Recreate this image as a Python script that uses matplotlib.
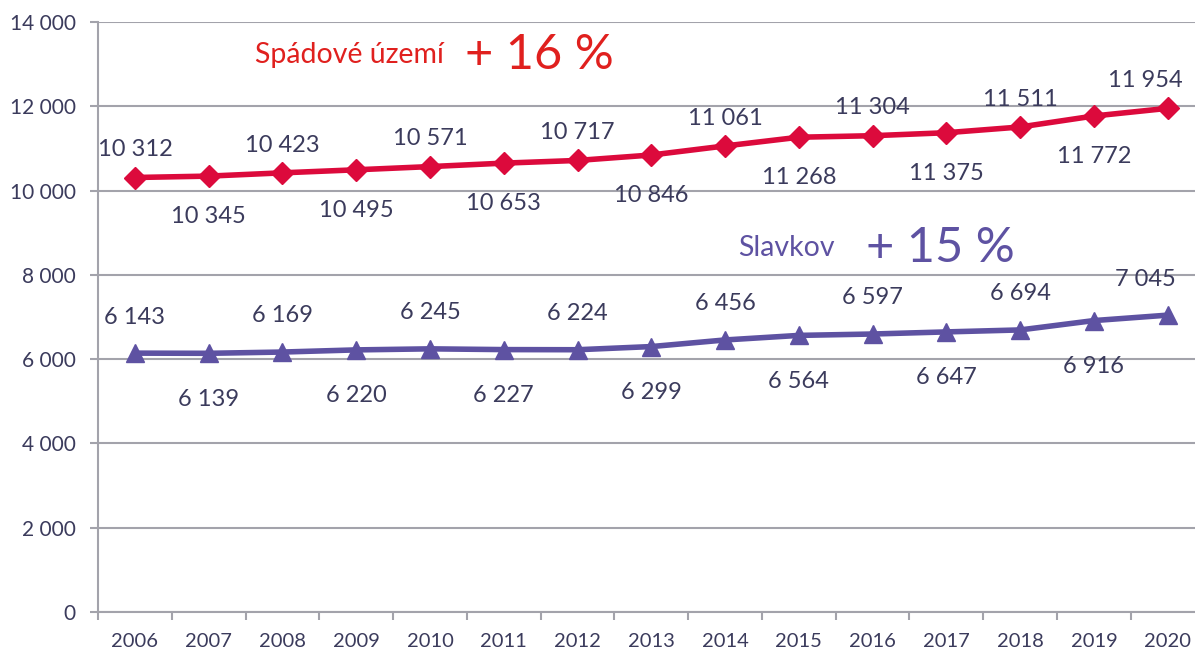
import matplotlib.pyplot as plt

# data
roky = ['2006', '2007', '2008', '2009', '2010', '2011', '2012', '2013',
        '2014', '2015', '2016', '2017', '2018', '2019', '2020']
spadove_uzemi = [10312, 10345, 10423, 10495, 10571, 10653, 10717, 10846,
                 11061, 11268, 11304, 11375, 11511, 11772, 11954]
slavkov = [6143, 6139, 6169, 6220, 6245, 6227, 6224, 6299,
           6456, 6564, 6597, 6647, 6694, 6916, 7045]

cervena = '#dc0a3c'
cervena_text = '#e0201e'
fialova = '#5e52a2'
text_barva = '#3b3b5c'
seda = '#a3a3ab'

plt.rcParams['font.family'] = ['Lato', 'DejaVu Sans']


def fmt(v):
    return '{:,}'.format(v).replace(',', ' ')


fig = plt.figure(figsize=(11.95, 6.51), dpi=100)
ax = fig.add_axes([0.082, 0.06, 0.926, 0.906])

x = list(range(len(roky)))
ax.plot(x, spadove_uzemi, color=cervena, lw=4, marker='D', ms=11.5, zorder=3)
ax.plot(x, slavkov, color=fialova, lw=4, marker='^', ms=13.5, zorder=3)


def popisek(hodnota, i, dy):
    # posledni popisek je posunuty doleva, aby se vesel
    dx = -16 if i == len(roky) - 1 else 0
    ax.annotate(fmt(hodnota), (i, hodnota), xytext=(dx, dy),
                textcoords='offset points', ha='center', va='center',
                fontsize=17, color=text_barva)


# popisky hodnot - stridave nad a pod
for i in x:
    if i % 2 == 0:
        popisek(spadove_uzemi[i], i, 20)
        popisek(slavkov[i], i, 26)
    else:
        popisek(spadove_uzemi[i], i, -29)
        popisek(slavkov[i], i, -33)

# nadpisy serii
ax.text(1.63, 13217, 'Spádové území', fontsize=20.5, color=cervena_text, va='center')
ax.text(4.48, 13217, '+ 16 %', fontsize=35, color=cervena_text, va='center')
ax.text(8.18, 8637, 'Slavkov', fontsize=20.5, color=fialova, va='center')
ax.text(9.91, 8637, '+ 15 %', fontsize=35, color=fialova, va='center')

ax.set_xlim(-0.5, 14.5)
ax.set_ylim(0, 14000)
ax.set_yticks(range(0, 14001, 2000))
ax.set_yticklabels([fmt(v) for v in range(0, 14001, 2000)])
ax.set_xticks(x)
ax.set_xticklabels(roky)
ax.set_xticks([i - 0.5 for i in range(len(roky) + 1)], minor=True)

ax.grid(axis='y', color=seda, lw=1.5)
ax.set_axisbelow(True)
for s in ['top', 'right']:
    ax.spines[s].set_visible(False)
ax.spines['left'].set_color(seda)
ax.spines['bottom'].set_color(seda)
ax.spines['left'].set_linewidth(1.5)
ax.spines['bottom'].set_linewidth(1.5)

ax.tick_params(axis='x', which='major', length=0, labelsize=14.5, colors=text_barva, pad=15)
ax.tick_params(axis='x', which='minor', length=6, width=1.5, color=seda)
ax.tick_params(axis='y', length=6, width=1.5, color=seda, labelsize=15, labelcolor=text_barva, pad=10)

plt.savefig('out.png', dpi=100)
